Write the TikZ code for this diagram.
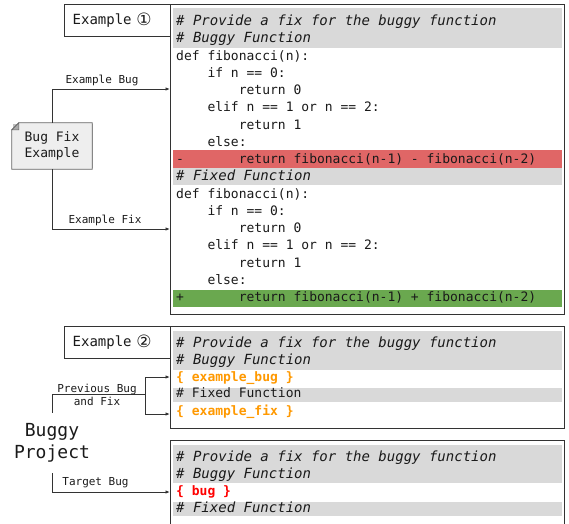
\documentclass[tikz,border=0pt]{standalone}
\usepackage{fontspec}
\newfontfamily\codefont{DejaVu Sans Mono}
\newfontfamily\symfont{DejaVu Sans}
\newcommand\mycnum[1]{{\symfont\fontsize{17}{17}\selectfont\raisebox{-1pt}{#1}}}
\usetikzlibrary{arrows.meta}
\definecolor{boxc}{HTML}{333333}
\definecolor{linec}{HTML}{333333}
\definecolor{txt}{HTML}{1A1A1A}
\definecolor{bandgray}{HTML}{D9D9D9}
\definecolor{bandred}{HTML}{E06666}
\definecolor{bandgreen}{HTML}{6AA84F}
\definecolor{orangec}{HTML}{FF9900}
\definecolor{redc}{HTML}{FF0000}
\definecolor{notefill}{HTML}{EEEEEE}
\definecolor{foldc}{HTML}{AAAAAA}
\begin{document}
\begin{tikzpicture}[x=1pt,y=-1pt,
  codebox/.style={draw=boxc, line width=1.3pt, fill=white, anchor=north west, inner sep=0pt},
  exbox/.style={draw=boxc, line width=1.3pt, fill=white, anchor=north west, minimum height=32pt,
     text width=90pt, inner xsep=8pt, inner ysep=0pt, align=left, text=txt,
     font=\codefont\fontsize{14}{16}\selectfont},
  code/.style={anchor=base west, inner sep=0pt, text=txt, font=\codefont\fontsize{13}{15}\selectfont},
  comm/.style={code, font=\codefont\itshape\fontsize{14}{16}\selectfont},
  hot/.style={code, font=\codefont\bfseries\fontsize{13}{15}\selectfont},
  lab/.style={inner sep=1pt, text=txt, font=\codefont\fontsize{11}{13}\selectfont, align=center},
  conn/.style={draw=linec, line width=1pt},
  arr/.style={conn, -{Latex[length=4.5pt,width=3.5pt]}},
]
\useasboundingbox (0,0) rectangle (569,523);
\clip (0,0) rectangle (569,523);

% ---------- Example 1 ----------
\node[exbox] (ex1) at (64,4) {Example \mycnum{①}};
\node[codebox, minimum width=394pt, minimum height=310pt] (box1) at (170,4) {};
\fill[bandgray] (173,8) rectangle (561.5,47.5);
\fill[bandred] (173,149.5) rectangle (561.5,168);
\fill[bandgray] (173,168) rectangle (561.5,184.5);
\fill[bandgreen] (173,289.5) rectangle (561.5,306.5);

\node[comm] (a0) at (176,25.5) {\# Provide a fix for the buggy function};
\node[comm] (a1) at (176,42.75) {\# Buggy Function};
\node[code] (a2) at (176,60) {def fibonacci(n):};
\node[code] (a3) at (176,77.25) {~~~~if n == 0:};
\node[code] (a4) at (176,94.5) {~~~~~~~~return 0};
\node[code] (a5) at (176,111.75) {~~~~elif n == 1 or n == 2:};
\node[code] (a6) at (176,129) {~~~~~~~~return 1};
\node[code] (a7) at (176,146.25) {~~~~else:};
\node[code] (a8) at (176,163.5) {-~~~~~~~return fibonacci(n-1) - fibonacci(n-2)};
\node[comm] (a9) at (176,180.75) {\# Fixed Function};
\node[code] (a10) at (176,198) {def fibonacci(n):};
\node[code] (a11) at (176,215.25) {~~~~if n == 0:};
\node[code] (a12) at (176,232.5) {~~~~~~~~return 0};
\node[code] (a13) at (176,249.75) {~~~~elif n == 1 or n == 2:};
\node[code] (a14) at (176,267) {~~~~~~~~return 1};
\node[code] (a15) at (176,284.25) {~~~~else:};
\node[code] (a16) at (176,301.5) {+~~~~~~~return fibonacci(n-1) + fibonacci(n-2)};

% note
\node[minimum width=80pt, minimum height=46pt, inner sep=0pt] (note) at (52,146) {};
\fill[black!25] ([xshift=1.2pt,yshift=-1.2pt]note.north east) rectangle ([xshift=1.2pt,yshift=1.2pt]note.south west);
\draw[draw=black!60, line width=0.8pt, fill=notefill]
  (note.north west) ++(7,0) -- (note.north east) -- (note.south east) -- (note.south west)
  -- ([yshift=-7pt]note.north west) -- cycle;
\draw[draw=black!60, line width=0.6pt, fill=foldc]
  ([yshift=-7pt]note.north west) -- ([xshift=7pt]note.north west) -- ([xshift=7pt,yshift=-7pt]note.north west) -- cycle;
\node[inner sep=0pt, text=txt, align=center, font=\codefont\fontsize{13}{16}\selectfont] (notetxt) at (note.center) {Bug Fix\\Example};

\coordinate (ebin) at (170,89);
\coordinate (efin) at (170,229);
\draw[arr] (note.north) |- (ebin);
\draw[arr] (note.south) |- (efin);
\node[lab] (lbug) at (102,80) {Example Bug};
\node[lab] (lfix) at (105,220.5) {Example Fix};

% ---------- Example 2 ----------
\node[exbox] (ex2) at (64,326) {Example \mycnum{②}};
\node[codebox, minimum width=394pt, minimum height=102pt] (box2) at (170,326) {};
\fill[bandgray] (173,331) rectangle (561.5,370);
\fill[bandgray] (173,388) rectangle (561.5,402);
\node[comm] (b0) at (176,347) {\# Provide a fix for the buggy function};
\node[comm] (b1) at (176,364) {\# Buggy Function};
\node[hot, text=orangec] (b2) at (176,381) {\{ example\_bug \}};
\node[code] (b3) at (176,397.5) {\# Fixed Function};
\node[hot, text=orangec] (b4) at (176,415) {\{ example\_fix \}};

% ---------- Target ----------
\node[codebox, minimum width=394pt, minimum height=100pt] (box3) at (170,440) {};
\fill[bandgray] (173,445) rectangle (561.5,483);
\fill[bandgray] (173,502) rectangle (561.5,516);
\node[comm] (c0) at (176,461) {\# Provide a fix for the buggy function};
\node[comm] (c1) at (176,478) {\# Buggy Function};
\node[hot, text=redc] (c2) at (176,495) {\{ bug \}};
\node[comm] (c3) at (176,512) {\# Fixed Function};

% Buggy project
\node[inner sep=0pt, minimum height=60pt, text=txt, align=center,
      font=\codefont\fontsize{18}{22}\selectfont] (bp) at (52,443) {Buggy\\Project};
\coordinate (split) at (145,394);
\coordinate (pbin) at (170,377);
\coordinate (pfin) at (170,414);
\coordinate (tbin) at (170,492);
\draw[conn] (bp.north) |- (split);
\draw[arr] (split) |- (pbin);
\draw[arr] (split) |- (pfin);
\draw[arr] (bp.south) |- (tbin);
\node[lab] (lprev) at (97,395) {Previous Bug\\and Fix};
\node[lab] (ltgt) at (95.5,483) {Target Bug};
\end{tikzpicture}
\end{document}
